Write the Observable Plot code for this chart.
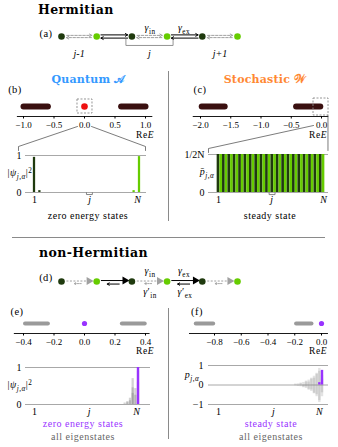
<!DOCTYPE html>
<html><head><meta charset="utf-8">
<script src="https://cdn.jsdelivr.net/npm/d3@7"></script>
<script src="https://cdn.jsdelivr.net/npm/@observablehq/plot@0.6"></script>
<style>
html,body{margin:0;padding:0;background:#fff;}
#fig{position:relative;width:338px;height:447px;overflow:hidden;font-family:"Liberation Serif",serif;color:#000;}
#fig svg{position:absolute;overflow:visible;}
.t{position:absolute;white-space:nowrap;line-height:1;font-size:10px;color:#000;letter-spacing:0.5px;}
.c{transform:translate(-50%,-50%);}
.l{transform:translate(0,-50%);}
.ttl{font-family:"DejaVu Serif","Liberation Serif",serif;font-weight:bold;font-size:12.5px;letter-spacing:0.4px;}
.hd{font-family:"DejaVu Serif","Liberation Serif",serif;font-weight:bold;font-size:11px;letter-spacing:0.2px;}
sub{font-size:72%;vertical-align:-0.35em;line-height:0;}
sup{font-size:72%;vertical-align:0.45em;line-height:0;}
.sep{position:absolute;background:#8a8a8a;}
</style></head><body><div id="fig"></div>
<script>
// ---------------- data ----------------
const chainSites = [0, 1, 2, 3, 4, 5];
const chainSub = ["A", "B", "A", "B", "A", "B"];
const intraBonds = [0, 2, 4];
const interBonds = [1, 3];
const cellCenters = [0.5, 2.5, 4.5];
const cellLabels = ["j-1", "j", "j+1"];

// spectra (Re E)
const bTicks = [-1, -0.5, 0, 0.5, 1];
const bBands = [[-1.0, -0.6], [0.6, 1.0]];
const bZeroModes = [0];
const cTicks = [-2, -1.5, -1, -0.5, 0];
const cBands = [[-1.98, -1.6], [-0.42, -0.02]];
const cZeroModes = [];
const eTicks = [-0.4, -0.2, 0, 0.2, 0.4];
const eBands = [[-0.39, -0.24], [0.245, 0.395]];
const eZeroModes = [0];
const fTicks = [-0.8, -0.6, -0.4, -0.2, 0];
const fBands = [[-0.94, -0.81], [-0.19, -0.075]];
const fZeroModes = [0];

// site profiles (sites 1..2N, N = 20)
const bSites = [1, 3, 38, 40];
const bVals = [0.95, 0.05, 0.05, 0.97];
const cSites = [1,2,3,4,5,6,7,8,9,10,11,12,13,14,15,16,17,18,19,20,21,22,23,24,25,26,27,28,29,30,31,32,33,34,35,36,37,38,39,40];
const cVals = [1,1,1,1,1,1,1,1,1,1,1,1,1,1,1,1,1,1,1,1,1,1,1,1,1,1,1,1,1,1,1,1,1,1,1,1,1,1,1,1];
const eSites = [35, 36, 36, 37, 37, 38, 38, 38, 39, 39, 40, 40];
const eVals = [0.04, 0.08, 0.05, 0.17, 0.1, 0.7, 0.45, 0.3, 0.43, 0.25, 0.9, 0.6];
const eZeroSites = [40];
const eZeroVals = [1];
const fSites = [30,31,32,33,34,35,36,37,38,39,40, 30,31,32,33,34,35,36,37,38,39,40, 32,33,34,35,36,37,38,39,40, 34,35,36,37,38,39,40];
const fVals = [0.05,-0.07,0.1,-0.14,0.2,-0.27,0.35,-0.45,0.6,-0.8,0.5,
               -0.04,0.06,-0.09,0.13,-0.18,0.25,-0.33,0.45,-0.6,0.85,-0.4,
               0.06,-0.1,0.15,-0.22,0.3,-0.42,0.55,-0.9,0.3,
               -0.1,0.15,-0.25,0.35,-0.5,0.7,-0.6];
const fSteadySites = [39, 40];
const fSteadyVals = [0.12, 0.75];

// tick labels of site axes
const siteTickFirst = [1];
const siteTickNames = ["j", "N"];

// ---------------- style ----------------
const DARK = "#1f3a0e", LIGHT = "#66cc00", PURPLE = "#9933ff";
const FONT = "Liberation Serif";
const STYLE = {background: "transparent", overflow: "visible", fontFamily: FONT, fontSize: "9px", color: "#000"};
const fig = document.getElementById("fig");
const subOf = s => (s % 2 === 1 ? DARK : LIGHT);

function put(el, left, top) { el.style.left = left + "px"; el.style.top = top + "px"; fig.appendChild(el); }
function txt(html, x, y, cls, css) {
  const d = document.createElement("div");
  d.className = "t " + (cls || "c"); d.innerHTML = html;
  d.style.left = x + "px"; d.style.top = y + "px";
  if (css) d.style.cssText += css;
  fig.appendChild(d);
}
function sep(x, y, w, h) { const d = document.createElement("div"); d.className = "sep"; Object.assign(d.style, {left: x + "px", top: y + "px", width: w + "px", height: h + "px"}); fig.appendChild(d); }

// ---------------- chain diagrams ----------------
function chain(top, nonHerm) {
  const sites = chainSites.map((x, i) => ({x, sub: chainSub[i]}));
  const marks = [];
  if (!nonHerm) {
    marks.push(
      Plot.arrow(intraBonds, {x1: d => d + 0.15, x2: d => d + 0.86, y1: 0.07, y2: 0.07, stroke: "#a0a0a0", strokeDasharray: "2.5,1.5", headLength: 4, strokeWidth: 1}),
      Plot.arrow(intraBonds, {x1: d => d + 0.85, x2: d => d + 0.14, y1: -0.07, y2: -0.07, stroke: "#a0a0a0", strokeDasharray: "2.5,1.5", headLength: 4, strokeWidth: 1}),
      Plot.arrow(interBonds, {x1: d => d + 0.12, x2: d => d + 0.88, y1: 0.1, y2: 0.1, stroke: "#000", headLength: 4, strokeWidth: 1}),
      Plot.arrow(interBonds, {x1: d => d + 0.88, x2: d => d + 0.12, y1: -0.1, y2: -0.1, stroke: "#000", headLength: 4, strokeWidth: 1}),
      Plot.line([[1.83, -0.18], [1.83, -0.56], [3.17, -0.56], [3.17, -0.18]], {x: d => d[0], y: d => d[1], stroke: "#888", strokeWidth: 0.9}),
      Plot.text(cellCenters, {x: d => d, y: -1.06, text: (d, i) => cellLabels[i], fontStyle: "italic", fontSize: 10, fontFamily: FONT})
    );
  } else {
    marks.push(
      Plot.link(intraBonds, {x1: d => d + 0.14, x2: d => d + 0.74, y1: 0.03, y2: 0.03, stroke: "#a0a0a0", strokeDasharray: "2,1.5", strokeWidth: 1}),
      Plot.dot(intraBonds, {x: d => d + 0.78, y: 0.03, symbol: "triangle", rotate: 90, r: 3, fill: "#a0a0a0"}),
      Plot.arrow(intraBonds, {x1: d => d + 0.56, x2: d => d + 0.36, y1: -0.13, y2: -0.13, stroke: "#a0a0a0", strokeDasharray: "1.5,1", headLength: 3, strokeWidth: 0.9}),
      Plot.link(interBonds, {x1: d => d + 0.12, x2: d => d + 0.76, y1: 0.06, y2: 0.06, stroke: "#000", strokeWidth: 1}),
      Plot.dot(interBonds, {x: d => d + 0.8, y: 0.06, symbol: "triangle", rotate: 90, r: 3, fill: "#000"}),
      Plot.arrow(interBonds, {x1: d => d + 0.64, x2: d => d + 0.3, y1: -0.16, y2: -0.16, stroke: "#000", headLength: 3.5, strokeWidth: 1})
    );
  }
  marks.push(Plot.dot(sites, {x: "x", y: 0, r: 3.3, fill: d => (d.sub === "A" ? DARK : LIGHT), stroke: "none"}));
  const p = Plot.plot({width: 338, height: 45, margin: 0, style: STYLE,
    x: {domain: [0, 5], range: [61, 237], axis: null},
    y: {domain: [1, -1], range: [0, 32], axis: null},
    color: {type: "identity"}, marks});
  put(p, 0, top);
}

// ---------------- spectra (number lines) ----------------
const BAND_Y = 1 / 3;
function numberLine(c) {
  const height = 72, axisLocal = c.axisPx - c.top;
  const marks = [
    Plot.ruleY([0], {x1: c.ext[0], x2: c.ext[1], stroke: "#000", strokeWidth: 0.9}),
    Plot.axisX({anchor: "bottom", ticks: c.ticks, tickFormat: d3.format(".1f"), tickSize: 2.5, tickPadding: 2.5, fontSize: 9, fontFamily: FONT}),
    Plot.link(c.bands, {x1: d => d[0], x2: d => d[1], y1: BAND_Y, y2: BAND_Y, stroke: c.bandColor, strokeWidth: c.bandW, strokeLinecap: "round"}),
    Plot.dot(c.zero, {x: d => d, y: BAND_Y, r: c.dotR, fill: c.dotColor})
  ];
  if (c.box) marks.push(Plot.rect([c.box], {x1: d => d[0], x2: d => d[1], y1: d => d[2], y2: d => d[3], fill: "none", stroke: "#8a8a8a", strokeDasharray: "2,1.5", strokeWidth: 0.9}));
  if (c.zoom) c.zoom.forEach(z => marks.push(Plot.line(z, {x: d => d[0], y: d => d[1], stroke: "#444", strokeWidth: 0.7})));
  const p = Plot.plot({width: c.width, height, marginTop: 0, marginLeft: 0, marginRight: 0, marginBottom: height - axisLocal, style: STYLE,
    x: {domain: c.domain, range: c.xPx.map(v => v - c.left)},
    y: {domain: [0, 1], range: [axisLocal, axisLocal - 30], axis: null}, marks});
  put(p, c.left, c.top);
}

// (b)
numberLine({left: 0, top: 85, width: 168, axisPx: 116, domain: [-1, 1], xPx: [23, 145], ticks: bTicks, ext: [-1.1, 1.12],
  bands: bBands, bandColor: "#3a1010", bandW: 6, zero: bZeroModes, dotColor: "#ee1111", dotR: 3.3,
  box: [-0.115, 0.131, 0.567, 0.1],
  zoom: [[[-0.115, -0.333], [-1.082, -1.0], [-1.082, -1.133]], [[0.115, -0.333], [1.0, -1.0], [1.0, -1.133]]]});
// (c)
numberLine({left: 168, top: 85, width: 170, axisPx: 116, domain: [-2, 0], xPx: [200, 321], ticks: cTicks, ext: [-2.12, 0.12],
  bands: cBands, bandColor: "#3a1010", bandW: 6, zero: cZeroModes, dotColor: "#ee1111", dotR: 3.3,
  box: [-0.132, 0.116, 0.6, 0.033],
  zoom: [[[-0.132, -0.3], [-1.868, -1.067], [-1.868, -1.2]], [[0.107, 0.033], [0.107, -1.133]]]});
// (e)
numberLine({left: 0, top: 302, width: 168, axisPx: 333, domain: [-0.4, 0.4], xPx: [23, 145], ticks: eTicks, ext: [-0.46, 0.43],
  bands: eBands, bandColor: "#9a9a9a", bandW: 4, zero: eZeroModes, dotColor: PURPLE, dotR: 2.6});
// (f)
numberLine({left: 168, top: 302, width: 170, axisPx: 333, domain: [-0.8, 0], xPx: [214, 321], ticks: fTicks, ext: [-0.987, 0.052],
  bands: fBands, bandColor: "#9a9a9a", bandW: 4, zero: fZeroModes, dotColor: PURPLE, dotR: 2.6});

// ---------------- site profiles ----------------
function siteAxes(nTick, jTick) {
  return [
    Plot.axisX({anchor: "bottom", ticks: siteTickFirst, tickFormat: () => "1", tickSize: 0, tickPadding: 3, fontSize: 10, fontFamily: FONT}),
    Plot.axisX({anchor: "bottom", ticks: [jTick, nTick], tickFormat: (d, i) => siteTickNames[i], tickSize: 0, tickPadding: 3, fontSize: 10, fontFamily: FONT, fontStyle: "italic"})
  ];
}
function bracket(j) {
  return Plot.line([[j - 1.1, -0.005], [j - 1.1, -0.055], [j + 1.1, -0.055], [j + 1.1, -0.005]], {x: d => d[0], y: d => d[1], stroke: "#777", strokeWidth: 0.9});
}

// (b) zero energy states
{
  const data = bSites.map((s, i) => ({s, v: bVals[i]}));
  const p = Plot.plot({width: 168, height: 64, marginLeft: 25, marginRight: 22, marginTop: 7, marginBottom: 20, style: STYLE,
    x: {domain: [1, 40], range: [34, 139], axis: null},
    y: {domain: [0, 1], range: [44, 7], axis: null},
    marks: [
      Plot.ruleY([0, 1], {stroke: "#a8a8a8", strokeWidth: 1}),
      Plot.rect(data, {x1: d => d.s - 0.42, x2: d => d.s + 0.42, y1: 0, y2: d => d.v, fill: d => subOf(d.s)}),
      Plot.axisY({ticks: [0, 1], tickFormat: d => String(d), tickSize: 0, tickPadding: 4, fontSize: 10, fontFamily: FONT}),
      ...siteAxes(39.3, 21.5),
      bracket(21.4)
    ], color: {type: "identity"}});
  put(p, 0, 148);
}
// (c) steady state
{
  const data = cSites.map((s, i) => ({s, v: cVals[i]}));
  const p = Plot.plot({width: 170, height: 64, marginLeft: 40, marginRight: 10, marginTop: 6, marginBottom: 20, style: STYLE,
    x: {domain: [1, 40], range: [50, 155], axis: null},
    y: {domain: [0, 1], range: [44, 6], axis: null},
    marks: [
      Plot.ruleY([0, 1], {stroke: "#a8a8a8", strokeWidth: 1}),
      Plot.rect(data, {x1: d => d.s - 0.5, x2: d => d.s + 0.5, y1: 0, y2: d => d.v, fill: d => subOf(d.s)}),
      Plot.axisY({ticks: [0, 1], tickFormat: d => (d === 1 ? "1/2N" : "0"), tickSize: 0, tickPadding: 4, fontSize: 10, fontFamily: FONT}),
      ...siteAxes(40, 20.7),
      bracket(20.9)
    ], color: {type: "identity"}});
  put(p, 168, 148);
}
// (e) zero energy states, non-Hermitian
{
  const all = eSites.map((s, i) => ({s, v: eVals[i]}));
  const zero = eZeroSites.map((s, i) => ({s, v: eZeroVals[i]}));
  const p = Plot.plot({width: 168, height: 56, marginLeft: 25, marginRight: 18, marginTop: 7, marginBottom: 12, style: STYLE,
    x: {domain: [1, 40], range: [34, 138], axis: null},
    y: {domain: [0, 1], range: [44, 7], axis: null},
    marks: [
      Plot.ruleY([0, 1], {stroke: "#a8a8a8", strokeWidth: 1}),
      Plot.rect(all, {x1: d => d.s - 0.42, x2: d => d.s + 0.42, y1: 0, y2: d => d.v, fill: "#808080", fillOpacity: 0.35}),
      Plot.rect(zero, {x1: d => d.s - 0.45, x2: d => d.s + 0.45, y1: 0, y2: d => d.v, fill: PURPLE}),
      Plot.axisY({ticks: [0, 1], tickFormat: d => String(d), tickSize: 0, tickPadding: 4, fontSize: 10, fontFamily: FONT}),
      ...siteAxes(39.3, 21.5)
    ]});
  put(p, 0, 360);
}
// (f) steady state, non-Hermitian
{
  const all = fSites.map((s, i) => ({s, v: fVals[i]}));
  const st = fSteadySites.map((s, i) => ({s, v: fSteadyVals[i]}));
  const p = Plot.plot({width: 170, height: 56, marginLeft: 40, marginRight: 10, marginTop: 5, marginBottom: 12, style: STYLE,
    x: {domain: [1, 40], range: [50, 154], axis: null},
    y: {domain: [-1, 1], range: [44, 5], axis: null},
    marks: [
      Plot.ruleY([-1, 0, 1], {stroke: "#a8a8a8", strokeWidth: 1}),
      Plot.rect(all, {x1: d => d.s - 0.45, x2: d => d.s + 0.45, y1: 0, y2: d => d.v, fill: "#808080", fillOpacity: 0.22}),
      Plot.rect(st, {x1: d => d.s - 0.45, x2: d => d.s + 0.45, y1: 0, y2: d => d.v, fill: PURPLE}),
      Plot.axisY({ticks: [-1, 0, 1], tickFormat: d3.format("d"), tickSize: 0, tickPadding: 5, fontSize: 10, fontFamily: FONT}),
      ...siteAxes(38.8, 21.6)
    ]});
  put(p, 168, 360);
}

// chains
chain(20, false);
chain(265, true);

// ---------------- separators ----------------
sep(167.5, 71, 1, 150);
sep(12, 236.5, 313, 1);
sep(167.5, 308, 1, 131);

// ---------------- text ----------------
txt("Hermitian", 38, 10, "l ttl");
txt("non-Hermitian", 39, 253, "l ttl");
txt("(a)", 46, 34, "c", "font-size:10.5px");
txt("(d)", 46, 278, "c", "font-size:10.5px");
txt("<i>γ</i><sub>in</sub>", 150, 28);
txt("<i>γ</i><sub>ex</sub>", 184, 28);
txt("<i>γ</i><sub>in</sub>", 150, 271);
txt("<i>γ</i><sub>ex</sub>", 184, 271);
txt("<i>γ</i>′<sub>in</sub>", 150, 292);
txt("<i>γ</i>′<sub>ex</sub>", 185, 292);
txt("Quantum 𝒜", 88, 79, "c hd", "color:#3399ff");
txt("Stochastic 𝒲", 265, 79, "c hd", "color:#ff8833");
txt("(b)", 15, 90, "c", "font-size:10.5px");
txt("(c)", 200, 90, "c", "font-size:10.5px");
txt("(e)", 17, 312, "c", "font-size:10.5px");
txt("(f)", 197, 312, "c", "font-size:10.5px");
txt("Re<i>E</i>", 145, 136, "c", "font-size:9.5px");
txt("Re<i>E</i>", 318, 136, "c", "font-size:9.5px");
txt("Re<i>E</i>", 145, 352, "c", "font-size:9.5px");
txt("Re<i>E</i>", 318, 352, "c", "font-size:9.5px");
txt("|<i>ψ</i><sub><i>j,α</i></sub>|<sup>2</sup>", 20, 173);
txt("<i>p̄</i><sub><i>j,α</i></sub>", 207, 172);
txt("|<i>ψ</i><sub><i>j,α</i></sub>|<sup>2</sup>", 20, 385);
txt("<i>p</i><sub><i>j,α</i></sub>", 192, 375);
txt("zero energy states", 88, 216);
txt("steady state", 270, 216);
txt("zero energy states", 83, 424, "c", "color:" + PURPLE);
txt("all eigenstates", 83, 437, "c", "color:#666");
txt("steady state", 271, 424, "c", "color:" + PURPLE);
txt("all eigenstates", 271, 437, "c", "color:#666");
</script>
</body></html>
